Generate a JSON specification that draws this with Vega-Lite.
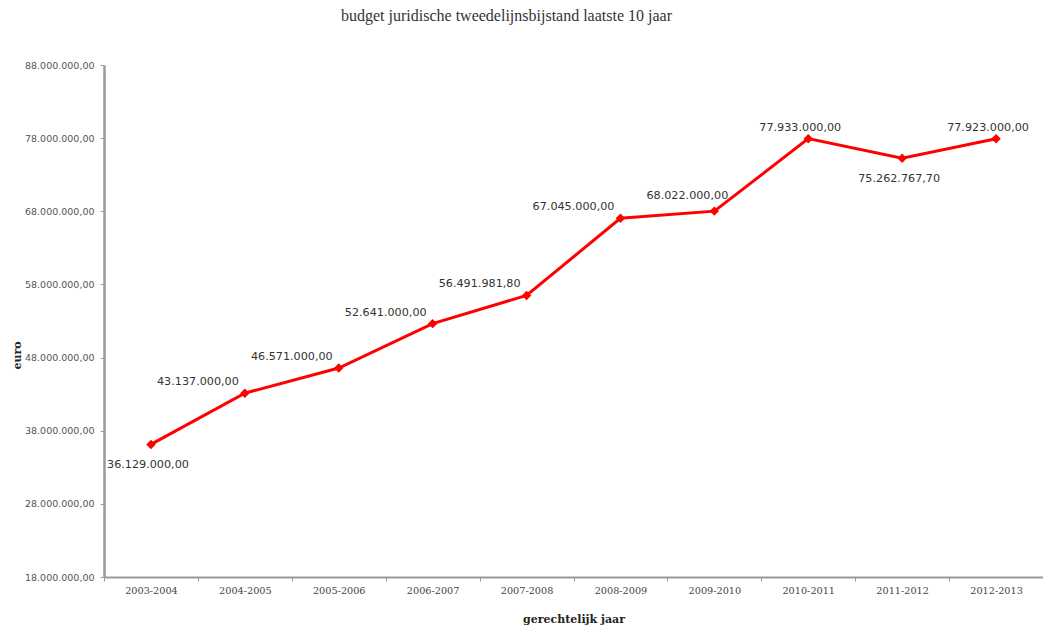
{
  "$schema": "https://vega.github.io/schema/vega-lite/v6.json",
  "autosize": "none",
  "width": 939,
  "height": 512,
  "padding": {"left": 104, "top": 65, "right": 0, "bottom": 50},
  "background": "white",
  "title": {
    "text": "budget juridische tweedelijnsbijstand laatste 10 jaar",
    "font": "Liberation Serif",
    "fontSize": 16,
    "fontWeight": "normal",
    "color": "#333333",
    "anchor": "middle",
    "frame": "group",
    "dx": -67,
    "offset": 36
  },
  "data": {
    "values": [
      {"jaar": "2003-2004", "euro": 36129000},
      {"jaar": "2004-2005", "euro": 43137000},
      {"jaar": "2005-2006", "euro": 46571000},
      {"jaar": "2006-2007", "euro": 52641000},
      {"jaar": "2007-2008", "euro": 56491981.8},
      {"jaar": "2008-2009", "euro": 67045000},
      {"jaar": "2009-2010", "euro": 68022000},
      {"jaar": "2010-2011", "euro": 77933000},
      {"jaar": "2011-2012", "euro": 75262767.7},
      {"jaar": "2012-2013", "euro": 77923000}
    ]
  },
  "encoding": {
    "x": {
      "field": "jaar",
      "type": "ordinal",
      "sort": null,
      "scale": {"type": "band", "paddingInner": 0, "paddingOuter": 0},
      "axis": {
        "title": "gerechtelijk jaar",
        "labelAngle": 0,
        "tickBand": "extent",
        "labelFont": "DejaVu Serif",
        "labelFontSize": 9.7,
        "labelColor": "#444444",
        "labelPadding": 4,
        "titleFont": "DejaVu Serif",
        "titleFontSize": 11,
        "titleFontWeight": "bold",
        "titleColor": "#222222",
        "titlePadding": 19,
        "domainColor": "#9a9a9a",
        "domainWidth": 2,
        "tickColor": "#9a9a9a",
        "tickSize": 4,
        "grid": false
      }
    },
    "y": {
      "field": "euro",
      "type": "quantitative",
      "scale": {"domain": [18000000, 88000000], "nice": false, "zero": false},
      "axis": {
        "title": "euro",
        "values": [18000000, 28000000, 38000000, 48000000, 58000000, 68000000, 78000000, 88000000],
        "format": ",.2f",
        "labelFont": "DejaVu Sans",
        "labelFontSize": 9.5,
        "labelColor": "#555555",
        "labelPadding": 6,
        "titleFont": "DejaVu Serif",
        "titleFontSize": 11,
        "titleFontWeight": "bold",
        "titleColor": "#222222",
        "titleY": 290,
        "titlePadding": 2,
        "domainColor": "#9a9a9a",
        "domainWidth": 2.5,
        "tickColor": "#9a9a9a",
        "tickSize": 4,
        "grid": false
      }
    }
  },
  "layer": [
    {
      "mark": {
        "type": "line",
        "color": "#ff0000",
        "strokeWidth": 3,
        "point": {"shape": "diamond", "size": 90, "filled": true, "color": "#ff0000"}
      }
    },
    {
      "transform": [{"filter": {"field": "jaar", "oneOf": ["2004-2005", "2005-2006", "2006-2007", "2007-2008", "2008-2009"]}}],
      "mark": {"type": "text", "align": "right", "baseline": "middle", "dx": -6, "dy": -11, "font": "DejaVu Sans", "fontSize": 11.2, "color": "#333333"},
      "encoding": {"text": {"field": "euro", "type": "quantitative", "format": ",.2f"}}
    },
    {
      "transform": [{"filter": {"field": "jaar", "oneOf": ["2010-2011", "2012-2013"]}}],
      "mark": {"type": "text", "align": "center", "baseline": "middle", "dx": -8, "dy": -11, "font": "DejaVu Sans", "fontSize": 11.2, "color": "#333333"},
      "encoding": {"text": {"field": "euro", "type": "quantitative", "format": ",.2f"}}
    },
    {
      "transform": [{"filter": {"field": "jaar", "equal": "2009-2010"}}],
      "mark": {"type": "text", "align": "center", "baseline": "middle", "dx": -27, "dy": -15, "font": "DejaVu Sans", "fontSize": 11.2, "color": "#333333"},
      "encoding": {"text": {"field": "euro", "type": "quantitative", "format": ",.2f"}}
    },
    {
      "transform": [{"filter": {"field": "jaar", "oneOf": ["2003-2004", "2011-2012"]}}],
      "mark": {"type": "text", "align": "center", "baseline": "middle", "dx": -3, "dy": 21, "font": "DejaVu Sans", "fontSize": 11.2, "color": "#333333"},
      "encoding": {"text": {"field": "euro", "type": "quantitative", "format": ",.2f"}}
    }
  ],
  "config": {
    "view": {"stroke": null},
    "locale": {
      "number": {"decimal": ",", "thousands": ".", "grouping": [3], "currency": ["€", ""]}
    }
  }
}
